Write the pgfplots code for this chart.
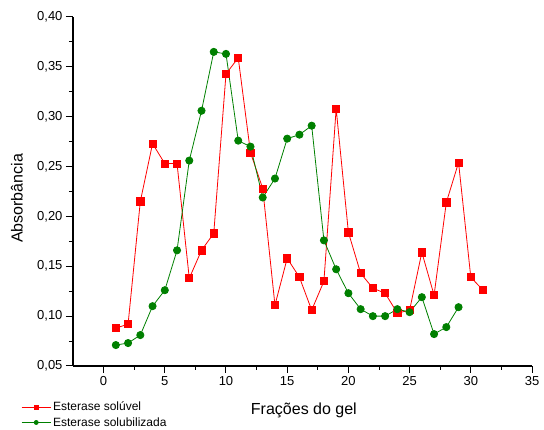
\documentclass[border=0pt]{standalone}
\usepackage{fontspec}
\setmainfont{Liberation Sans}
\usepackage{pgfplots}
\pgfplotsset{compat=1.18}
\definecolor{solred}{RGB}{255,0,0}
\definecolor{solgreen}{RGB}{0,128,0}

\begin{document}
\begin{tikzpicture}
\path (-73pt,-64pt) rectangle (471pt,366pt);
\begin{axis}[
    scale only axis,
    width=459pt, height=349pt,
    xmin=-2.5, xmax=35,
    ymin=0.05, ymax=0.40,
    axis x line*=bottom,
    axis y line*=left,
    axis line style={line width=1.1pt},
    xtick={0,5,...,35},
    ytick={0.05,0.10,...,0.401},
    minor x tick num=1,
    minor y tick num=1,
    tick align=outside,
    major tick length=7pt,
    minor tick length=4pt,
    tick style={line width=1pt, black},
    /pgf/number format/assume math mode=true,
    ticklabel style={font=\fontsize{13}{15}\selectfont},
    yticklabel style={/pgf/number format/.cd, use comma, fixed, fixed zerofill, precision=2},
    xlabel={Frações do gel},
    ylabel={Absorbância},
    label style={font=\fontsize{16}{19}\selectfont},
    xlabel style={at={(axis description cs:0.503,-0.126)}, anchor=center},
    ylabel style={at={(axis description cs:-0.122,0.48)}, anchor=center},
    legend style={at={(axis description cs:-0.113,-0.097)}, anchor=north west,
        draw=none, fill=none, inner sep=0pt, row sep=1pt,
        font=\fontsize{12}{14}\selectfont},
    legend cell align=left,
    legend image code/.code={
        \draw[mark size=2pt, mark repeat=2, mark phase=2]
            plot coordinates {(0pt,0pt) (14.5pt,0pt) (29pt,0pt)};
    },
]
\addplot[solred, line width=0.8pt, mark=square*, mark size=3.6pt, mark options={solid, fill=solred}]
coordinates {
(1,0.088) (2,0.092) (3,0.215) (4,0.273) (5,0.253) (6,0.253) (7,0.138)
(8,0.166) (9,0.183) (10,0.343) (11,0.359) (12,0.264) (13,0.228) (14,0.111)
(15,0.158) (16,0.139) (17,0.106) (18,0.135) (19,0.308) (20,0.184) (21,0.143)
(22,0.128) (23,0.123) (24,0.103) (25,0.106) (26,0.164) (27,0.121) (28,0.214)
(29,0.254) (30,0.139) (31,0.126)
};
\addlegendentry{Esterase solúvel}
\addplot[solgreen, line width=0.8pt, mark=*, mark size=3.6pt, mark options={solid, fill=solgreen}]
coordinates {
(1,0.071) (2,0.073) (3,0.081) (4,0.110) (5,0.126) (6,0.166) (7,0.256)
(8,0.306) (9,0.365) (10,0.363) (11,0.276) (12,0.270) (13,0.219) (14,0.238)
(15,0.278) (16,0.282) (17,0.291) (18,0.176) (19,0.147) (20,0.123) (21,0.107)
(22,0.100) (23,0.100) (24,0.107) (25,0.104) (26,0.119) (27,0.082) (28,0.089)
(29,0.109)
};
\addlegendentry{Esterase solubilizada}
\end{axis}
\end{tikzpicture}
\end{document}
